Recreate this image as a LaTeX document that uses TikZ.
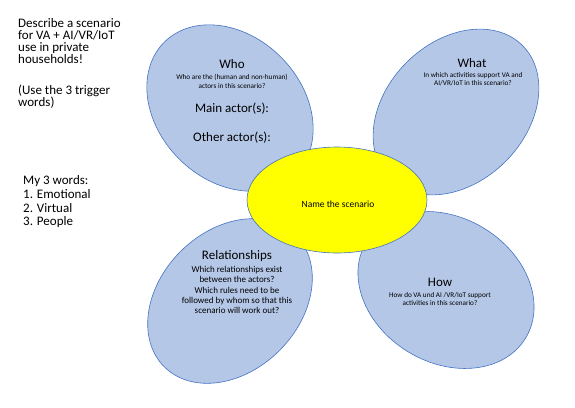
\documentclass[tikz,border=0pt]{standalone}
\usepackage{fontspec}
\setmainfont{Carlito}
\usetikzlibrary{shapes.geometric}
\definecolor{petalfill}{HTML}{B4C7E7}
\definecolor{petaledge}{HTML}{4472C4}
\definecolor{centrefill}{HTML}{FFFF00}
\tikzset{
  petal/.style={ellipse, draw=petaledge, fill=petalfill, line width=0.6pt, inner sep=0pt},
  centre/.style={ellipse, draw=petaledge, fill=centrefill, line width=0.6pt, inner sep=0pt},
  ttl/.style={font=\fontsize{13}{14}\selectfont, inner sep=0pt, text=black},
  small/.style={font=\fontsize{7.2}{8.6}\selectfont, align=center, inner sep=0pt},
  mid/.style={font=\fontsize{9}{10.3}\selectfont, align=center, inner sep=0pt},
  side/.style={font=\fontsize{13}{12.2}\selectfont, align=left, inner sep=0pt, anchor=north west},
}
\begin{document}
\begin{tikzpicture}[x=1pt,y=-1pt]
\useasboundingbox (0,0) rectangle (575,407);
% petals
\node[petal, minimum width=186pt, minimum height=144pt, rotate=-45] (who) at (230,108) {};
\node[petal, minimum width=188pt, minimum height=140pt, rotate=45] (what) at (456,112) {};
\node[petal, minimum width=186pt, minimum height=140pt, rotate=45] (rel) at (230,301) {};
\node[petal, minimum width=186pt, minimum height=145pt, rotate=-31] (how) at (446,290) {};
% centre
\node[centre, minimum width=180pt, minimum height=106pt] (name) at (337,200) {};
\node[font=\fontsize{9.5}{11}\selectfont, inner sep=0pt] (namet) at (338,204) {Name the scenario};
% who
\node[ttl] (whot) at (232,64) {Who};
\node[small] (whoq) at (232,81.5) {Who are the (human and non-human)\\actors in this scenario?};
\node[ttl] (mainact) at (232,109) {Main actor(s):};
\node[ttl] (otheract) at (232,138) {Other actor(s):};
% what
\node[ttl] (whatt) at (472,63) {What};
\node[small] (whatq) at (473,79) {In which activities support VA and\\AI/VR/IoT in this scenario?};
% relationships
\node[ttl] (relt) at (237,256) {Relationships};
\node[mid] (relq) at (237,290) {Which relationships exist\\between the actors?\\Which rules need to be\\followed by whom so that this\\scenario will work out?};
% how
\node[ttl] (howt) at (440,282) {How};
\node[small] (howq) at (440,299) {How do VA und AI /VR/IoT support\\activities in this scenario?};
% left texts
\node[side] (desc) at (18,17.8) {Describe a scenario\\for VA + AI/VR/IoT\\use in private\\households!};
\node[side] (trig) at (18,84.4) {(Use the 3 trigger\\words)};
\node[side, font=\fontsize{13}{13.7}\selectfont] (words) at (23,175.5) {My 3 words:\\1. Emotional\\2. Virtual\\3. People};
\end{tikzpicture}
\end{document}
